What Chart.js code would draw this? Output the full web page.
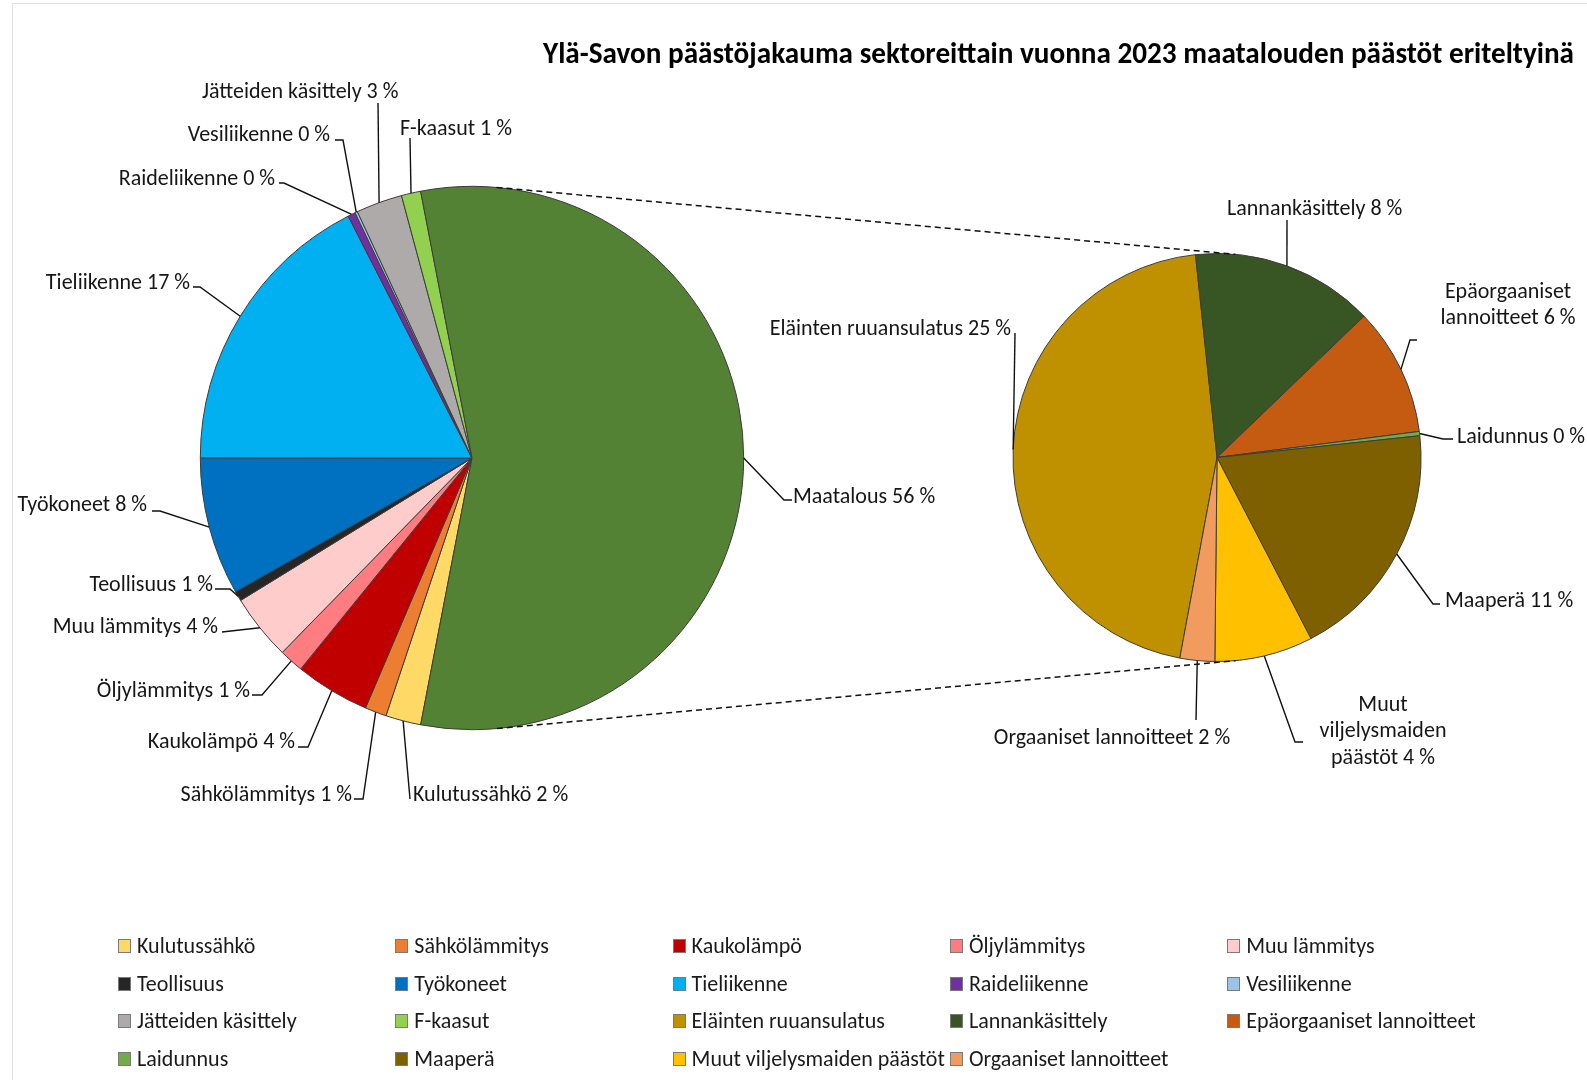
<!DOCTYPE html>
<html><head><meta charset="utf-8">
<script src="https://cdn.jsdelivr.net/npm/chart.js@4.4.1/dist/chart.umd.min.js"></script>
<style>
html,body{margin:0;padding:0;background:#fff;width:1587px;height:1080px;overflow:hidden;}
#wrap{position:relative;width:1587px;height:1080px;font-family:Carlito,Lato,sans-serif;color:#1f1f1f;}
#frame{position:absolute;left:12px;top:3px;width:1600px;height:1100px;border-left:1.5px solid #dfe3e8;border-top:1.5px solid #dfe3e8;}
canvas{position:absolute;left:0;top:0;}
#title{position:absolute;right:13px;top:36px;height:34px;line-height:34px;font-weight:bold;font-size:29.2px;white-space:nowrap;color:#000;}
.lg{position:absolute;height:24px;line-height:24px;font-size:22px;white-space:nowrap;color:#1a1a1a}
.lg i{position:absolute;left:0;top:5px;width:13px;height:14px;border:1px solid #7a7a7a;box-sizing:border-box}
.lg span{position:absolute;left:19px;top:0}
</style></head><body>
<div id="wrap">
<div id="frame"></div>
<canvas id="c1" width="1587" height="1080"></canvas>
<canvas id="c2" width="1587" height="1080"></canvas>
<div id="title">Ylä-Savon päästöjakauma sektoreittain vuonna 2023 maatalouden päästöt eriteltyinä</div>
<div id="legend"></div>
</div>
<script>
// ---------- DATA (percent of total emissions) ----------
const sectorLabels = ['Kulutussähkö','Sähkölämmitys','Kaukolämpö','Öljylämmitys','Muu lämmitys','Teollisuus','Työkoneet','Tieliikenne','Raideliikenne','Vesiliikenne','Jätteiden käsittely','F-kaasut'];
const sectorValues = [2.1, 1.28, 4.44, 1.45, 3.91, 0.58, 8.2, 17.45, 0.45, 0.15, 2.75, 1.15];
const otherLabel = 'Maatalous';
const agriLabels = ['Eläinten ruuansulatus','Lannankäsittely','Epäorgaaniset lannoitteet','Laidunnus','Maaperä','Muut viljelysmaiden päästöt','Orgaaniset lannoitteet'];
const agriValues = [25.43, 8.12, 5.68, 0.19, 10.69, 4.36, 1.54];
const titleText = 'Ylä-Savon päästöjakauma sektoreittain vuonna 2023 maatalouden päästöt eriteltyinä';

// ---------- STYLES ----------
const sectorColors = ['#FFD966','#ED7D31','#C00000','#FF7C80','#FFCCCC','#262626','#0070C0','#00B0F0','#7030A0','#9DC3E6','#AEAAAA','#92D050'];
const otherColor = '#548235';
const agriColors = ['#BF9000','#375623','#C55A11','#70AD47','#7F6000','#FFC000','#F29B5E'];
const FONT = 'Carlito, Lato, sans-serif';
const LABEL_SIZE = 22;
const LABEL_DY = 2;

// label placement (layout only)
const leftLayout = [
  {x:413, y:793, align:'left',  pts:[[410,799]]},
  {x:352, y:793, align:'right', pts:[[354,799],[363,799]]},
  {x:295, y:740, align:'right', pts:[[298,747],[308,747]]},
  {x:250, y:689, align:'right', pts:[[252,695],[262,695]]},
  {x:218, y:625, align:'right', pts:[[222,632]]},
  {x:213, y:583, align:'right', pts:[[215,589],[230,589]]},
  {x:147, y:503, align:'right', pts:[[152,511],[160,511]]},
  {x:190, y:281, align:'right', pts:[[193,287],[200,287]]},
  {x:275, y:177, align:'right', pts:[[279,183],[284,183]]},
  {x:330, y:133, align:'right', pts:[[335,140],[343,140]]},
  {x:202, y:90,  align:'left',  pts:[[378,103]]},
  {x:400, y:127, align:'left',  pts:[[410,138]]},
  {x:793, y:495, align:'left',  pts:[[792,500],[784,500]]}
];
const rightLayout = [
  {x:1011, y:327, align:'right', pts:[[1015,333]]},
  {x:1227, y:207, align:'left',  pts:[[1287,220]]},
  {x:1508, y:290, align:'center', breaks:[1], pts:[[1417,340],[1410,340]]},
  {x:1457, y:435, align:'left',  pts:[[1453,439],[1443,439]]},
  {x:1445, y:599, align:'left',  pts:[[1440,604],[1433,604]]},
  {x:1383, y:703, align:'center', breaks:[1,2], pts:[[1303,742],[1295,742]]},
  {x:1112, y:736, align:'center', pts:[[1196,720]]}
];

const agriTotal = agriValues.reduce((a,b)=>a+b,0);
const grandTotal = sectorValues.reduce((a,b)=>a+b,0) + agriTotal;
const pct = v => Math.round(v / grandTotal * 100) + ' %';

function labelPlugin(layouts, names, values){
  return {
    id:'pieLabels',
    afterDatasetsDraw(chart){
      const ctx = chart.ctx;
      const meta = chart.getDatasetMeta(0);
      ctx.save();
      meta.data.forEach((arc, i) => {
        const L = layouts[i];
        const p = arc.getProps(['x','y','startAngle','endAngle','outerRadius'], true);
        const mid = (p.startAngle + p.endAngle) / 2;
        const rx = p.x + Math.cos(mid) * p.outerRadius;
        const ry = p.y + Math.sin(mid) * p.outerRadius;
        ctx.strokeStyle = '#111';
        ctx.lineWidth = 1.4;
        ctx.beginPath();
        ctx.moveTo(L.pts[0][0], L.pts[0][1]);
        for (let k = 1; k < L.pts.length; k++) ctx.lineTo(L.pts[k][0], L.pts[k][1]);
        ctx.lineTo(rx, ry);
        ctx.stroke();
        const text = names[i] + ' ' + pct(values[i]);
        let lines = [text];
        if (L.breaks) {
          const w = text.split(' ');
          lines = [];
          let s = 0;
          L.breaks.forEach(b => { lines.push(w.slice(s, b).join(' ')); s = b; });
          lines.push(w.slice(s).join(' '));
        }
        ctx.fillStyle = '#161616';
        ctx.font = LABEL_SIZE + 'px ' + FONT;
        ctx.textAlign = L.align;
        ctx.textBaseline = 'middle';
        lines.forEach((ln, k) => ctx.fillText(ln, L.x, L.y + LABEL_DY + k * 26.7));
      });
      ctx.restore();
    }
  };
}

const leftChart = new Chart(document.getElementById('c1'), {
  type:'pie',
  data:{
    labels:[...sectorLabels, otherLabel],
    datasets:[{data:[...sectorValues, agriTotal], backgroundColor:[...sectorColors, otherColor], borderColor:'#3c3c3c', borderWidth:1}]
  },
  options:{
    responsive:false, devicePixelRatio:1, animation:false, events:[],
    rotation: 90 + agriTotal / grandTotal * 180,
    radius: 271.7,
    layout:{padding:{left:172, right:815, top:158, bottom:322}},
    plugins:{legend:{display:false}, tooltip:{enabled:false}, title:{display:false}}
  },
  plugins:[labelPlugin(leftLayout, [...sectorLabels, otherLabel], [...sectorValues, agriTotal])]
});

const connectorPlugin = {
  id:'connectors',
  afterDraw(chart){
    const a = leftChart.getDatasetMeta(0).data[0].getProps(['x','y','outerRadius'], true);
    const b = chart.getDatasetMeta(0).data[0].getProps(['x','y','outerRadius'], true);
    const dx = b.x - a.x, dy = b.y - a.y, d = Math.hypot(dx, dy);
    const th = Math.atan2(dy, dx), al = Math.acos((a.outerRadius - b.outerRadius) / d);
    const ctx = chart.ctx;
    ctx.save();
    ctx.strokeStyle = '#111'; ctx.lineWidth = 1.5; ctx.setLineDash([6,4]);
    [th - al, th + al].forEach(phi => {
      ctx.beginPath();
      ctx.moveTo(a.x + a.outerRadius * Math.cos(phi), a.y + a.outerRadius * Math.sin(phi));
      ctx.lineTo(b.x + b.outerRadius * Math.cos(phi), b.y + b.outerRadius * Math.sin(phi));
      ctx.stroke();
    });
    ctx.restore();
  }
};

const rightChart = new Chart(document.getElementById('c2'), {
  type:'pie',
  data:{
    labels:agriLabels,
    datasets:[{data:agriValues, backgroundColor:agriColors, borderColor:'#3c3c3c', borderWidth:1}]
  },
  options:{
    responsive:false, devicePixelRatio:1, animation:false, events:[],
    rotation: 190.5,
    radius: 204,
    layout:{padding:{left:967, right:120, top:207.5, bottom:372.5}},
    plugins:{legend:{display:false}, tooltip:{enabled:false}, title:{display:false}}
  },
  plugins:[labelPlugin(rightLayout, agriLabels, agriValues), connectorPlugin]
});

// HTML legend
const legendNames = [...sectorLabels, ...agriLabels];
const legendColors = [...sectorColors, ...agriColors];
const lg = document.getElementById('legend');
legendNames.forEach((n, k) => {
  const col = k % 5, row = Math.floor(k / 5);
  const d = document.createElement('div');
  d.className = 'lg';
  d.style.left = (118 + col * 277.3) + 'px';
  d.style.top = (946 + row * 37.7 - 12) + 'px';
  d.innerHTML = '<i style="background:' + legendColors[k] + '"></i><span>' + n + '</span>';
  lg.appendChild(d);
});
</script>
</body></html>
